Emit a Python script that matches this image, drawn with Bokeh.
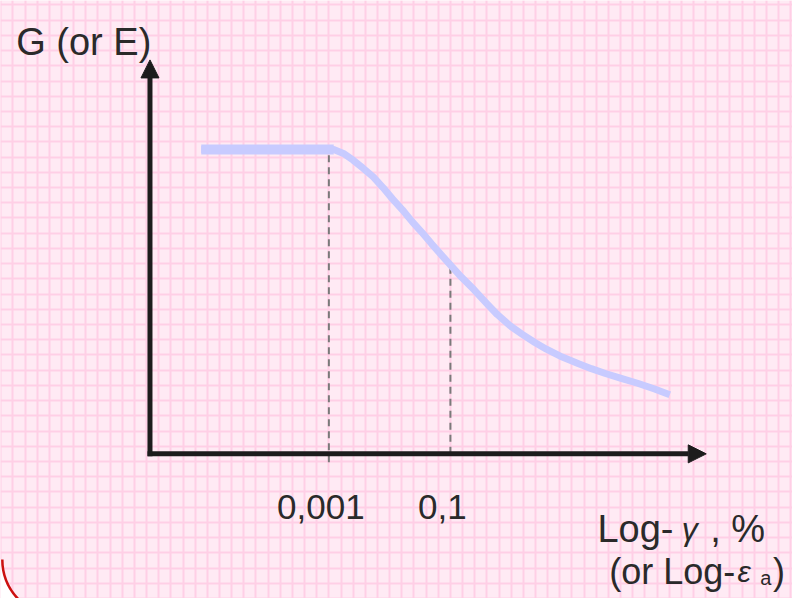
import numpy as np
from bokeh.plotting import figure
from bokeh.models import Range1d, Label, Arrow, NormalHead, Grid, FixedTicker
from bokeh.core.properties import value
from bokeh.embed import file_html
from bokeh.resources import INLINE

# ---- data (schematic modulus degradation curve: log10 strain vs G/Gmax) ----
log_strain = [-5.10, -2.92, -2.76, -2.60, -2.44, -2.27, -2.11, -1.95, -1.79,
              -1.63, -1.47, -1.31, -1.15, -0.98, -0.82, -0.61, -0.42, -0.23,
              -0.02, 0.19, 0.39, 0.58, 0.84, 1.11, 1.32, 1.55, 1.81, 2.08,
              2.36, 2.61]
modulus_ratio = [1.000, 1.000, 0.987, 0.965, 0.939, 0.910, 0.875, 0.837, 0.802,
                 0.763, 0.728, 0.690, 0.654, 0.616, 0.581, 0.539, 0.498, 0.458,
                 0.421, 0.392, 0.366, 0.344, 0.318, 0.296, 0.280, 0.264, 0.248,
                 0.232, 0.213, 0.194]
tick_strain = [0.001, 0.1]
tick_labels = ["0,001", "0,1"]
y_title = "G (or E)"
x_title_1 = ["Log-", "\u03b3", ", %"]
x_title_2 = ["(or Log-", "\u03b5", "a", ")"]

# ---- layout helpers: reference-image pixel -> data units ----
def px_x(X):
    return -3 + (X - 335) / 62.0

def px_y(Y):
    return (465.5 - Y) / 312.5

W, H = 792, 598
p = figure(width=W, height=H, x_range=Range1d(px_x(0), px_x(808)),
           y_range=Range1d(px_y(614), px_y(0)), output_backend="svg",
           toolbar_location=None, min_border=0,
           x_axis_location=None, y_axis_location=None)
p.outline_line_color = None
p.background_fill_color = "#FFEAF4"
p.border_fill_color = "#FFEAF4"
p.grid.visible = False

gx = Grid(dimension=0, ticker=FixedTicker(ticks=list(np.arange(-8.6, 4.8, 0.2))),
          grid_line_color="#FFCFE6", grid_line_width=2)
gy = Grid(dimension=1, ticker=FixedTicker(ticks=list(np.arange(-0.475, 1.55, 0.05))),
          grid_line_color="#FFCFE6", grid_line_width=2)
p.add_layout(gx, "center")
p.add_layout(gy, "center")

# red rounded-box corner (bottom-left)
p.annular_wedge(x=[px_x(60)], y=[px_y(574)], inner_radius=58, outer_radius=200,
                inner_radius_units="screen", outer_radius_units="screen",
                start_angle=np.pi, end_angle=1.5 * np.pi, fill_color="white",
                line_color=None)
p.arc(x=[px_x(60)], y=[px_y(574)], radius=57, radius_units="screen",
      start_angle=np.pi, end_angle=1.5 * np.pi, line_color="#CC1010", line_width=2.5)

# dashed reference lines
tick_x = [float(np.log10(s)) for s in tick_strain]
tick_top = [float(np.interp(t, log_strain, modulus_ratio)) for t in tick_x]
p.segment(x0=tick_x, y0=[px_y(474), 0.0], x1=tick_x, y1=tick_top,
          line_color="#7a7a7a", line_width=2, line_dash="7 5")

# curve
p.line(log_strain, modulus_ratio, line_color="#C8CBFF", line_width=7,
       line_join="round")
p.line(log_strain[:2], modulus_ratio[:2], line_color="#C8CBFF", line_width=10)

# axes with arrows
axis_color = "#1c1c1c"
x0 = px_x(152.5)
p.add_layout(Arrow(end=NormalHead(size=18, fill_color=axis_color, line_color=axis_color),
                   x_start=px_x(150), y_start=0, x_end=px_x(720), y_end=0,
                   line_width=5, line_color=axis_color))
p.add_layout(Arrow(end=NormalHead(size=18, fill_color=axis_color, line_color=axis_color),
                   x_start=x0, y_start=px_y(468), x_end=x0, y_end=px_y(61),
                   line_width=5, line_color=axis_color))

FONT = "Liberation Sans"
TC = "#2a2a2a"

# tick labels
p.text(x=tick_x, y=[px_y(520)] * 2, text=tick_labels, x_offset=-8,
       text_align="center", text_baseline="alphabetic",
       text_font=value(FONT), text_font_size="35px", text_color=TC)

def lab(txt, X, Y, size="38px", style="normal"):
    p.add_layout(Label(x=px_x(X), y=px_y(Y), text=txt, text_font=FONT,
                       text_font_size=size, text_font_style=style,
                       text_color=TC, text_baseline="alphabetic"))

lab(y_title, 16, 43)
lab(x_title_1[0], 609, 543)
lab(x_title_1[1], 695, 543, "32px", "italic")
lab(x_title_1[2], 724, 543)
lab(x_title_2[0], 621, 586, "36px")
lab(x_title_2[1], 752, 586, "30px", "italic")
lab(x_title_2[2], 775, 593, "20px")
lab(x_title_2[3], 788, 586, "36px")

open("out.html", "w").write(file_html(p, INLINE))
